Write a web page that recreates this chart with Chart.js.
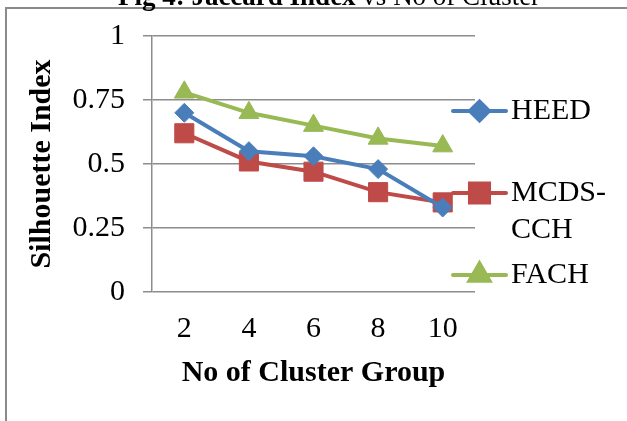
<!DOCTYPE html>
<html>
<head>
<meta charset="utf-8">
<script src="https://cdn.jsdelivr.net/npm/chart.js@4"></script>
<style>
  html, body { margin: 0; padding: 0; background: #fff; }
  #wrap { position: relative; width: 627px; height: 421px; }
</style>
</head>
<body>
<div id="wrap"><canvas id="c" width="627" height="421"></canvas></div>
<script>
// Cluster group sizes on the category axis
const clusterGroups = ['2', '4', '6', '8', '10'];

// Silhouette index for each protocol
const heed    = [0.70, 0.55, 0.53, 0.48, 0.33];
const mcdsCch = [0.62, 0.51, 0.47, 0.39, 0.35];
const fach    = [0.78, 0.70, 0.65, 0.60, 0.57];

// Value axis ticks and their printed labels
const yTicks = [0, 0.25, 0.5, 0.75, 1];
const yTickLabels = ['0', '0.25', '0.5', '0.75', '1'];

const seriesNames = ['HEED', 'MCDS-CCH', 'FACH'];
const titleBold = 'Fig 4: Jaccard Index';
const titleRest = ' vs No of Cluster';

const FONT = "'Liberation Serif', 'Times New Roman', serif";
const GRID = '#8c8c8c';

const colors = ['#4A7EBB', '#BE4B48', '#98B954'];
const shapes = ['rectRot', 'rect', 'triangle'];
const radii = [9.5, 13.5, 11.5];

// Outer frame and the figure caption above it
const framePlugin = {
  id: 'frame',
  beforeDraw(chart) {
    const ctx = chart.ctx;
    ctx.save();
    ctx.strokeStyle = '#8a8a8a';
    ctx.lineWidth = 2;
    ctx.strokeRect(6, 8, 700, 500);
    ctx.fillStyle = '#000';
    ctx.textBaseline = 'alphabetic';
    ctx.font = "bold 27px " + FONT;
    const w1 = ctx.measureText(titleBold).width;
    ctx.font = "27px " + FONT;
    const w2 = ctx.measureText(titleRest).width;
    const x0 = 329 - (w1 + w2) / 2;
    ctx.font = "bold 27px " + FONT;
    ctx.fillText(titleBold, x0, 5);
    ctx.font = "27px " + FONT;
    ctx.fillText(titleRest, x0 + w1, 5);
    ctx.restore();
  }
};

// Legend at the right of the plot, long names wrap after the hyphen
const legendPlugin = {
  id: 'sideLegend',
  afterDraw(chart) {
    const ctx = chart.ctx;
    const area = chart.chartArea;
    const rows = [111, 193, 275];
    ctx.save();
    chart.data.datasets.forEach((ds, i) => {
      const y = rows[i];
      const xs = area.right - 22;
      const xe = area.right + 31;
      const xm = (xs + xe) / 2;
      ctx.strokeStyle = ds.borderColor;
      ctx.lineWidth = 4;
      ctx.lineCap = 'round';
      ctx.beginPath();
      ctx.moveTo(xs, y);
      ctx.lineTo(xe, y);
      ctx.stroke();
      Chart.helpers.drawPoint(ctx, {
        pointStyle: ds.pointStyle, radius: ds.pointRadius, borderWidth: 1
      }, xm, y);
      ctx.fillStyle = ds.borderColor;
      ctx.strokeStyle = ds.borderColor;
      ctx.fill();
      ctx.fillStyle = '#000';
      ctx.font = "30px " + FONT;
      ctx.textBaseline = 'middle';
      ctx.textAlign = 'left';
      const cut = ds.label.indexOf('-');
      const lines = cut >= 0 ? [ds.label.slice(0, cut + 1), ds.label.slice(cut + 1)] : [ds.label];
      lines.forEach((t, k) => ctx.fillText(t, xe + 5, y + k * 37));
    });
    ctx.restore();
  }
};

const seriesData = [heed, mcdsCch, fach];

new Chart(document.getElementById('c'), {
  type: 'line',
  data: {
    labels: clusterGroups,
    datasets: seriesData.map((d, i) => ({
      label: seriesNames[i],
      data: d,
      borderColor: colors[i],
      backgroundColor: colors[i],
      pointBackgroundColor: colors[i],
      pointBorderColor: colors[i],
      borderWidth: 4,
      pointStyle: shapes[i],
      pointRadius: radii[i],
      pointBorderWidth: 1,
      tension: 0
    }))
  },
  options: {
    responsive: false,
    animation: false,
    layout: { padding: { left: 24, top: 32.5, right: 152, bottom: 0 } },
    plugins: {
      legend: { display: false },
      tooltip: { enabled: false },
      title: { display: false }
    },
    scales: {
      x: {
        offset: true,
        grid: { display: false },
        border: { display: false },
        ticks: { color: '#000', font: { family: FONT, size: 30 }, padding: 11, maxRotation: 0 },
        title: {
          display: true, text: 'No of Cluster Group', color: '#000',
          font: { family: FONT, size: 30, weight: 'bold' }, padding: { top: 0, bottom: 30 }
        },
        afterFit(scale) { scale.height = 129; }
      },
      y: {
        min: 0, max: 1,
        afterBuildTicks(scale) { scale.ticks = yTicks.map(v => ({ value: v })); },
        grid: { color: GRID, lineWidth: 1.5, drawTicks: true, tickLength: 9, tickColor: GRID },
        border: { display: true, color: GRID, width: 1.5 },
        ticks: {
          color: '#000', font: { family: FONT, size: 30 }, padding: 18,
          callback: (v) => yTickLabels[yTicks.indexOf(v)]
        },
        title: {
          display: true, text: 'Silhouette Index', color: '#000',
          font: { family: FONT, size: 30, weight: 'bold' }, padding: { top: 0, bottom: 0 }
        },
        afterFit(scale) { scale.width = 128; }
      }
    }
  },
  plugins: [framePlugin, legendPlugin]
});
</script>
</body>
</html>
